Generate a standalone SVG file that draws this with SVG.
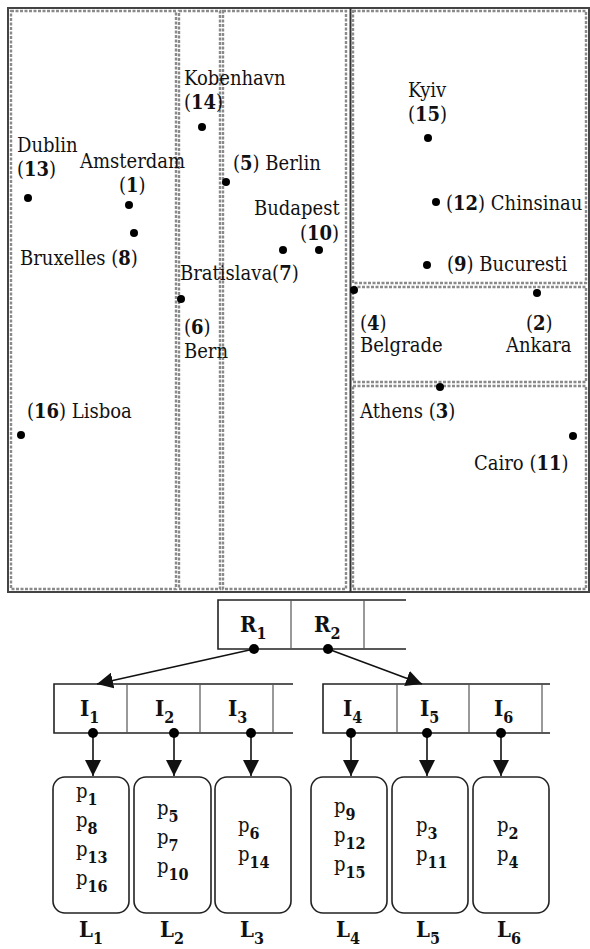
<svg xmlns="http://www.w3.org/2000/svg" width="590" height="949" viewBox="0 0 590 949">
<defs>
<style>
text{font-family:'DejaVu Serif Condensed','DejaVu Serif',serif;font-stretch:condensed;font-size:20px;fill:#111}
.b{font-weight:bold}
.big{font-size:22px;font-weight:bold}
.sub{font-size:16px;font-weight:bold}
.reg{fill:none;stroke:#8a8a8a;stroke-width:2.4;stroke-dasharray:3 1.5}
.frame{fill:none;stroke:#444;stroke-width:2}
.dot{fill:#000}
.node{fill:none;stroke:#222;stroke-width:1.6}
.div{stroke:#555;stroke-width:1.2}
.leaf{fill:#fff;stroke:#222;stroke-width:1.6}
.edge{stroke:#111;stroke-width:1.6;fill:none;marker-end:url(#ah)}
</style>
<marker id="ah" markerUnits="userSpaceOnUse" markerWidth="16" markerHeight="16" viewBox="0 0 16 16" refX="16" refY="8" orient="auto">
<path d="M0,0 L16,8 L0,16 Z" fill="#111"/>
</marker>
</defs>

<g id="map">
<rect class="frame" x="8" y="8" width="581" height="584"/>
<line x1="350.5" y1="8" x2="350.5" y2="592" stroke="#333" stroke-width="2"/>
<rect class="reg" x="11" y="11" width="165" height="578"/>
<rect class="reg" x="179" y="11" width="41" height="578"/>
<rect class="reg" x="223" y="11" width="123" height="578"/>
<rect class="reg" x="353" y="11" width="233" height="272"/>
<rect class="reg" x="353" y="287" width="233" height="95"/>
<rect class="reg" x="353" y="386" width="233" height="203"/>
</g>

<g id="points">
<g id="p13"><circle class="dot" cx="28" cy="198" r="4"/><text x="17" y="152">Dublin</text><text x="17" y="176">(<tspan class="b">13</tspan>)</text></g>
<g id="p1"><circle class="dot" cx="129" cy="205" r="4"/><text x="80" y="168">Amsterdam</text><text x="119" y="192">(<tspan class="b">1</tspan>)</text></g>
<g id="p8"><circle class="dot" cx="134" cy="233" r="4"/><text x="20" y="265">Bruxelles (<tspan class="b">8</tspan>)</text></g>
<g id="p14"><circle class="dot" cx="202" cy="127" r="4"/><text x="184" y="85">Kobenhavn</text><text x="184" y="109">(<tspan class="b">14</tspan>)</text></g>
<g id="p5"><circle class="dot" cx="226" cy="182" r="4"/><text x="233" y="170">(<tspan class="b">5</tspan>) Berlin</text></g>
<g id="p10"><circle class="dot" cx="319" cy="250" r="4"/><text x="254" y="215">Budapest</text><text x="300" y="240">(<tspan class="b">10</tspan>)</text></g>
<g id="p7"><circle class="dot" cx="283" cy="250" r="4"/><text x="180" y="280">Bratislava(<tspan class="b">7</tspan>)</text></g>
<g id="p6"><circle class="dot" cx="181" cy="299" r="4"/><text x="184" y="334">(<tspan class="b">6</tspan>)</text><text x="184" y="358">Bern</text></g>
<g id="p16"><circle class="dot" cx="21" cy="435" r="4"/><text x="27" y="418">(<tspan class="b">16</tspan>) Lisboa</text></g>
<g id="p15"><circle class="dot" cx="428" cy="138" r="4"/><text x="408" y="97">Kyiv</text><text x="408" y="121">(<tspan class="b">15</tspan>)</text></g>
<g id="p12"><circle class="dot" cx="436" cy="202" r="4"/><text x="446" y="210">(<tspan class="b">12</tspan>) Chinsinau</text></g>
<g id="p9"><circle class="dot" cx="427" cy="265" r="4"/><text x="447" y="271">(<tspan class="b">9</tspan>) Bucuresti</text></g>
<g id="p4"><circle class="dot" cx="354" cy="290" r="4"/><text x="360" y="330">(<tspan class="b">4</tspan>)</text><text x="360" y="352">Belgrade</text></g>
<g id="p2"><circle class="dot" cx="537" cy="293" r="4"/><text x="526" y="330">(<tspan class="b">2</tspan>)</text><text x="506" y="352">Ankara</text></g>
<g id="p3"><circle class="dot" cx="440" cy="387" r="4"/><text x="360" y="418">Athens (<tspan class="b">3</tspan>)</text></g>
<g id="p11"><circle class="dot" cx="573" cy="436" r="4"/><text x="474" y="470">Cairo (<tspan class="b">11</tspan>)</text></g>
</g>

<g id="R">
<path class="node" d="M406,600 H218 V649 H406"/>
<line class="div" x1="291" y1="600" x2="291" y2="649"/>
<line class="div" x1="364" y1="600" x2="364" y2="649"/>
<text class="big" x="240" y="632">R<tspan class="sub" dy="7">1</tspan></text>
<text class="big" x="314" y="632">R<tspan class="sub" dy="7">2</tspan></text>
</g>

<g id="I_left">
<path class="node" d="M293,684 H54 V733 H293"/>
<line class="div" x1="127" y1="684" x2="127" y2="733"/>
<line class="div" x1="200" y1="684" x2="200" y2="733"/>
<line class="div" x1="273" y1="684" x2="273" y2="733"/>
<text class="big" x="80" y="716">I<tspan class="sub" dy="7">1</tspan></text>
<text class="big" x="155" y="716">I<tspan class="sub" dy="7">2</tspan></text>
<text class="big" x="228" y="716">I<tspan class="sub" dy="7">3</tspan></text>
</g>

<g id="I_right">
<path class="node" d="M550,684 H323 V733 H550"/>
<line class="div" x1="397" y1="684" x2="397" y2="733"/>
<line class="div" x1="469" y1="684" x2="469" y2="733"/>
<line class="div" x1="542" y1="684" x2="542" y2="733"/>
<text class="big" x="343" y="716">I<tspan class="sub" dy="7">4</tspan></text>
<text class="big" x="420" y="716">I<tspan class="sub" dy="7">5</tspan></text>
<text class="big" x="494" y="716">I<tspan class="sub" dy="7">6</tspan></text>
</g>

<g id="L1"><rect class="leaf" x="53" y="777" width="76" height="136" rx="12"/>
<text x="76" y="798">p<tspan class="sub" dy="7">1</tspan></text>
<text x="76" y="827">p<tspan class="sub" dy="7">8</tspan></text>
<text x="76" y="856">p<tspan class="sub" dy="7">13</tspan></text>
<text x="76" y="885">p<tspan class="sub" dy="7">16</tspan></text>
<text class="big" x="79" y="937">L<tspan class="sub" dy="7">1</tspan></text></g>
<g id="L2"><rect class="leaf" x="134" y="777" width="77" height="136" rx="12"/>
<text x="157" y="815">p<tspan class="sub" dy="7">5</tspan></text>
<text x="157" y="844">p<tspan class="sub" dy="7">7</tspan></text>
<text x="157" y="873">p<tspan class="sub" dy="7">10</tspan></text>
<text class="big" x="160" y="937">L<tspan class="sub" dy="7">2</tspan></text></g>
<g id="L3"><rect class="leaf" x="215" y="777" width="76" height="136" rx="12"/>
<text x="238" y="832">p<tspan class="sub" dy="7">6</tspan></text>
<text x="238" y="861">p<tspan class="sub" dy="7">14</tspan></text>
<text class="big" x="240" y="937">L<tspan class="sub" dy="7">3</tspan></text></g>
<g id="L4"><rect class="leaf" x="311" y="777" width="76" height="136" rx="12"/>
<text x="334" y="813">p<tspan class="sub" dy="7">9</tspan></text>
<text x="334" y="842">p<tspan class="sub" dy="7">12</tspan></text>
<text x="334" y="871">p<tspan class="sub" dy="7">15</tspan></text>
<text class="big" x="336" y="937">L<tspan class="sub" dy="7">4</tspan></text></g>
<g id="L5"><rect class="leaf" x="392" y="777" width="76" height="136" rx="12"/>
<text x="416" y="832">p<tspan class="sub" dy="7">3</tspan></text>
<text x="416" y="861">p<tspan class="sub" dy="7">11</tspan></text>
<text class="big" x="416" y="937">L<tspan class="sub" dy="7">5</tspan></text></g>
<g id="L6"><rect class="leaf" x="473" y="777" width="76" height="136" rx="12"/>
<text x="497" y="832">p<tspan class="sub" dy="7">2</tspan></text>
<text x="497" y="861">p<tspan class="sub" dy="7">4</tspan></text>
<text class="big" x="497" y="937">L<tspan class="sub" dy="7">6</tspan></text></g>

<g id="connectors">
<line class="edge" x1="254" y1="649" x2="97" y2="684"/>
<line class="edge" x1="328" y1="649" x2="422" y2="684"/>
<line class="edge" x1="93" y1="733" x2="93" y2="776"/>
<line class="edge" x1="174" y1="733" x2="174" y2="776"/>
<line class="edge" x1="251" y1="733" x2="251" y2="776"/>
<line class="edge" x1="351" y1="733" x2="351" y2="776"/>
<line class="edge" x1="427" y1="733" x2="427" y2="776"/>
<line class="edge" x1="501" y1="733" x2="501" y2="776"/>
<circle class="dot" cx="254" cy="649" r="5"/>
<circle class="dot" cx="328" cy="649" r="5"/>
<circle class="dot" cx="93" cy="733" r="5"/>
<circle class="dot" cx="174" cy="733" r="5"/>
<circle class="dot" cx="251" cy="733" r="5"/>
<circle class="dot" cx="351" cy="733" r="5"/>
<circle class="dot" cx="427" cy="733" r="5"/>
<circle class="dot" cx="501" cy="733" r="5"/>
</g>
</svg>
